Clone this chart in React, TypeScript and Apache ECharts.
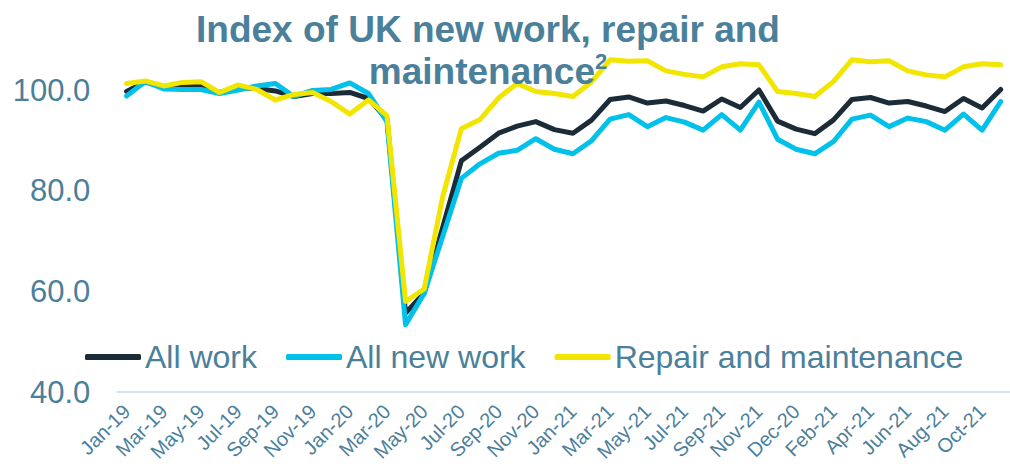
import React, { useEffect, useRef } from "react";
import * as echarts from "echarts";

const categories: string[] = [
  "Jan-19", "Feb-19", "Mar-19", "Apr-19", "May-19", "Jun-19", "Jul-19", "Aug-19", "Sep-19", "Oct-19", "Nov-19", "Dec-19",
  "Jan-20", "Feb-20", "Mar-20", "Apr-20", "May-20", "Jun-20", "Jul-20", "Aug-20", "Sep-20", "Oct-20", "Nov-20", "Dec-20",
  "Jan-21", "Feb-21", "Mar-21", "Apr-21", "May-21", "Jun-21", "Jul-21", "Aug-21", "Sep-21", "Oct-21", "Nov-21",
  "Nov-20", "Dec-20", "Jan-21", "Feb-21", "Mar-21", "Apr-21", "May-21", "Jun-21", "Jul-21", "Aug-21", "Sep-21", "Oct-21", "Nov-21",
];

const allWork: number[] = [
  99.8, 101.7, 100.6, 100.8, 101.0, 99.6, 100.6, 100.4, 99.9, 98.8, 99.4, 99.4,
  99.6, 98.4, 94.3, 55.7, 59.7, 72.8, 86.0, 88.7, 91.5, 92.9, 93.8, 92.2,
  91.5, 94.1, 98.2, 98.7, 97.5, 97.9, 97.0, 95.9, 98.3, 96.6, 100.1,
  93.9, 92.3, 91.4, 94.1, 98.2, 98.6, 97.5, 97.8, 96.9, 95.8, 98.4, 96.5, 100.2,
];

const allNewWork: number[] = [
  98.9, 101.8, 100.3, 100.2, 100.2, 99.4, 100.1, 100.9, 101.4, 98.8, 100.0, 100.2,
  101.5, 99.4, 93.8, 53.4, 59.6, 71.0, 82.5, 85.4, 87.5, 88.1, 90.4, 88.3,
  87.4, 90.0, 94.3, 95.2, 92.8, 94.6, 93.7, 92.1, 95.2, 92.1, 97.7,
  90.3, 88.3, 87.4, 89.8, 94.3, 95.1, 92.8, 94.5, 93.8, 92.1, 95.3, 92.1, 97.8,
];

const repairMaintenance: number[] = [
  101.4, 101.9, 100.9, 101.6, 101.75, 99.6, 101.1, 100.2, 98.1, 99.2, 99.6, 97.8,
  95.3, 98.1, 95.0, 58.0, 60.5, 78.9, 92.4, 94.2, 98.5, 101.4, 99.8, 99.4,
  98.8, 101.7, 106.1, 105.8, 105.9, 103.9, 103.2, 102.7, 104.7, 105.3, 105.1,
  99.8, 99.4, 98.8, 101.75, 106.1, 105.7, 105.9, 103.9, 103.1, 102.7, 104.7, 105.3, 105.1,
];

const seriesNames: string[] = ["All work", "All new work", "Repair and maintenance"];
const yTicks = { min: 40, max: 110, interval: 20 };

const TEXT = "#4b809b";
const FONT = "Liberation Sans, Arial, sans-serif";

export default function App() {
  const ref = useRef<HTMLDivElement>(null);
  useEffect(() => {
    if (!ref.current) return;
    const chart = echarts.init(ref.current, null, { renderer: "svg" });
    const colors = ["#1b2b37", "#00c1e9", "#f2e500"];
    const datasets = [allWork, allNewWork, repairMaintenance];
    chart.setOption({
      animation: false,
      title: {
        text: "Index of UK new work, repair and\nmaintenance{sup|2}",
        left: 483,
        top: 3,
        textAlign: "center",
        textStyle: {
          fontFamily: FONT,
          fontWeight: "bold",
          fontSize: 37,
          lineHeight: 42,
          color: TEXT,
          rich: {
            sup: {
              fontFamily: FONT,
              fontWeight: "bold",
              fontSize: 22,
              lineHeight: 42,
              color: TEXT,
              verticalAlign: "top",
              padding: [0, 0, 14, 0],
            },
          },
        },
      },
      legend: {
        left: 80,
        top: 336,
        itemWidth: 56,
        itemHeight: 6,
        itemGap: 29,
        data: seriesNames.map((n) => ({ name: n, icon: "roundRect" })),
        textStyle: {
          fontFamily: FONT,
          fontSize: 32,
          lineHeight: 32,
          color: TEXT,
          padding: [0, 0, 0, -1],
        },
      },
      grid: { left: 117.3, right: -12.7, top: 40.2, bottom: 74 },
      xAxis: {
        type: "category",
        data: categories,
        boundaryGap: true,
        axisLine: { show: true, lineStyle: { color: "#d3e4eb", width: 2 } },
        axisTick: { show: false },
        splitLine: { show: false },
        axisLabel: {
          interval: 1,
          rotate: 45,
          margin: 16,
          fontFamily: FONT,
          fontSize: 20,
          color: TEXT,
        },
      },
      yAxis: {
        type: "value",
        min: yTicks.min,
        max: yTicks.max,
        interval: yTicks.interval,
        axisLine: { show: false },
        axisTick: { show: false },
        splitLine: { show: false },
        axisLabel: {
          showMaxLabel: false,
          margin: 27,
          fontFamily: FONT,
          fontSize: 31,
          color: TEXT,
          formatter: (v: number) => v.toFixed(1),
        },
      },
      series: seriesNames.map((name, k) => ({
        name,
        type: "line",
        data: datasets[k],
        symbol: "none",
        color: colors[k],
        lineStyle: { width: 5, color: colors[k], cap: "round", join: "round" },
        z: 2 + k,
      })),
    });
    return () => chart.dispose();
  }, []);
  return (
    <div
      ref={ref}
      style={{ position: "absolute", left: 0, top: 0, width: 1010, height: 466, background: "#fff" }}
    />
  );
}
